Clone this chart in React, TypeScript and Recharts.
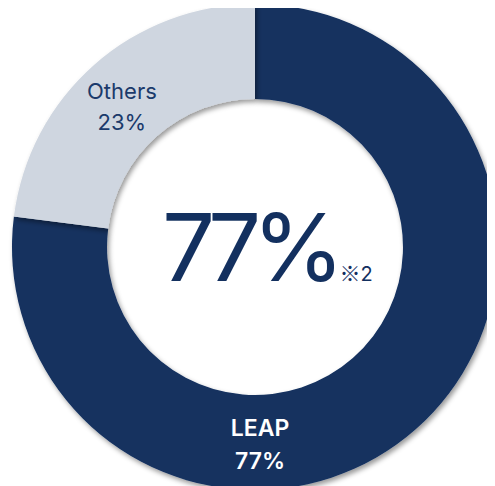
import { PieChart, Pie, Cell } from 'recharts';

const NAMES = ['LEAP', 'Others'];
const SHARES = [77, 23];
const COLORS = ['#13305f', '#cfd6e0'];
const LABEL_COLORS = ['#ffffff', '#1b3a6b'];
const HEADLINE = '77%';
const NOTE = '※';
const NOTE_NUM = '2';

const data = NAMES.map((name, i) => ({ name, value: SHARES[i] }));

const FONT = 'Inter, "Noto Sans", sans-serif';
const RAD = Math.PI / 180;
const CX = 255;
const CY = 247;
const INK = '#13305f';

interface SliceLabelProps {
  cx: number;
  cy: number;
  innerRadius: number;
  outerRadius: number;
  midAngle: number;
  index: number;
  name: string;
  value: number;
}

const SliceLabel = ({ cx, cy, innerRadius, outerRadius, midAngle, index, name, value }: SliceLabelProps) => {
  // big slice label sits at the bottom of the ring
  const angle = index === 0 ? -88.5 : midAngle + 1.5;
  const r = (innerRadius + outerRadius) / 2;
  const x = cx + r * Math.cos(-angle * RAD);
  const y = cy + r * Math.sin(-angle * RAD);
  return (
    <text
      x={x}
      y={y}
      textAnchor="middle"
      fill={LABEL_COLORS[index]}
      fontFamily={FONT}
      fontSize={index === 0 ? 23 : 22}
      fontWeight={index === 0 ? 600 : 400}
    >
      <tspan x={x} dy={index === 0 ? -6 : -5}>{name}</tspan>
      <tspan x={x} dy={index === 0 ? 33 : 31}>{`${value}%`}</tspan>
    </text>
  );
};

export default function App() {
  return (
    <div style={{ marginLeft: -8, marginTop: -8, width: 495, height: 486, background: '#fff', overflow: 'hidden' }}>
      <PieChart width={495} height={486} margin={{ top: 0, right: 0, bottom: 0, left: 0 }}>
        <defs>
          <filter id="ringShadow" x="-10%" y="-10%" width="120%" height="120%">
            <feDropShadow dx="2" dy="3" stdDeviation="2.5" floodColor="#000" floodOpacity="0.4" />
          </filter>
        </defs>
        <Pie
          data={data}
          dataKey="value"
          nameKey="name"
          cx={CX}
          cy={CY}
          innerRadius={148}
          outerRadius={243}
          startAngle={90}
          endAngle={-270}
          stroke="none"
          labelLine={false}
          label={SliceLabel}
          isAnimationActive={false}
        >
          {data.map((d, i) => (
            <Cell key={d.name} fill={COLORS[i]} filter="url(#ringShadow)" />
          ))}
        </Pie>
        <text x={CX - 93} y={CY + 34} textAnchor="start" fill={INK} fontFamily={FONT}>
          <tspan fontSize={94} fontWeight={400} letterSpacing={-9}>{HEADLINE}</tspan>
          <tspan fontSize={21} dx={4} fill={INK} fontFamily={'"Noto Sans CJK JP"'} fontWeight={300}>{NOTE}</tspan>
          <tspan fontSize={20} fill={INK}>{NOTE_NUM}</tspan>
        </text>
      </PieChart>
    </div>
  );
}
